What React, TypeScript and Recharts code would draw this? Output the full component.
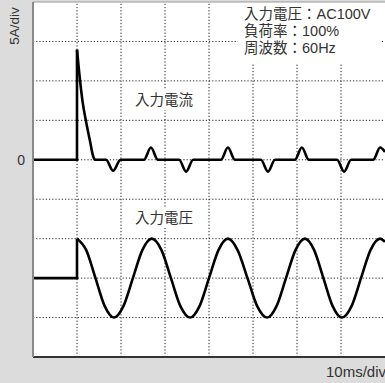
import { ComposedChart, Line, XAxis, YAxis, CartesianGrid, ReferenceLine } from 'recharts'

// time axis in ms (10ms/div), value axis in divisions
const gridTimes = [10, 20, 30, 40, 50, 60, 70]
const gridLevels = [-4, -3, -2, -1, 0, 1, 2, 3]

// input current: switch-on edge, inrush decay, then rectifier pulses
const currentStepTime = [0, 10, 10]
const currentStepValue = [0, 0, 2.79]
const currentTime = [10, 10.7, 11.3, 12.0, 13.0, 13.6, 14.1, 16.6, 18.2, 19.9, 25.2, 26.8, 28.4, 33.2, 34.8, 36.4, 42.7, 44.3, 45.9, 51.8, 53.4, 55.0, 59.5, 61.1, 62.7, 69.1, 70.7, 72.3, 77.3, 78.9, 80]
const currentValue = [2.79, 2.0, 1.45, 1.0, 0.45, 0.12, 0, 0, -0.28, 0, 0, 0.31, 0, 0, -0.3, 0, 0, 0.31, 0, 0, -0.3, 0, 0, 0.31, 0, 0, -0.3, 0, 0, 0.31, 0.2]

// input voltage: flat before switch-on, then AC waveform (centre at -3 div)
const voltageStepTime = [0, 10, 10]
const voltageStepValue = [-3, -3, -2]
const voltageTime = [10, 12.1, 14.2, 16.3, 18.4, 20.55, 22.7, 24.85, 27.0, 29.2, 31.35, 33.5, 35.7, 37.85, 40.0, 42.15, 44.3, 46.5, 48.75, 50.95, 53.2, 55.35, 57.5, 59.65, 61.8, 63.9, 66.0, 68.1, 70.2, 72.4, 74.55, 76.7, 78.9, 80]
const voltageValue = [-2, -2.29, -3, -3.71, -4, -3.71, -3, -2.29, -2, -2.29, -3, -3.71, -4, -3.71, -3, -2.29, -2, -2.29, -3, -3.71, -4, -3.71, -3, -2.29, -2, -2.29, -3, -3.71, -4, -3.71, -3, -2.29, -2, -2.08]

const conditionLines = ['入力電圧：AC100V', '負荷率：100%', '周波数：60Hz']

const toPoints = (ts: number[], vs: number[]) => ts.map((t, i) => ({ t, v: vs[i] }))

const FONT = '"Liberation Sans", "Noto Sans CJK JP", sans-serif'
const TEXT = '#333'

export default function App() {
  const labelBox = {
    position: 'absolute' as const,
    background: '#fff',
    color: TEXT,
    fontSize: 14.5,
    lineHeight: '20px',
    paddingLeft: 3,
    whiteSpace: 'nowrap' as const,
  }

  return (
    <div style={{ position: 'absolute', left: 0, top: 0, width: 385, height: 383, background: '#dcdcdc', fontFamily: FONT, overflow: 'hidden' }}>
      <ComposedChart width={385} height={383} margin={{ top: 2, right: 0, left: 0, bottom: 0 }}>
        <CartesianGrid fill="#fff" horizontal={false} vertical={false} />
        <XAxis
          type="number"
          dataKey="t"
          domain={[0, 80]}
          ticks={[0, 80]}
          tick={false}
          tickLine={false}
          height={26}
          axisLine={{ stroke: '#333', strokeWidth: 2 }}
        />
        <YAxis
          type="number"
          domain={[-5, 4]}
          ticks={[0]}
          width={33}
          tickLine={false}
          axisLine={{ stroke: '#8a8a8a', strokeWidth: 2 }}
          tick={{ fill: TEXT, fontSize: 14, fontFamily: FONT }}
        />
        <ReferenceLine y={4} stroke="#999" strokeWidth={1} />
        {gridTimes.map(t => (
          <ReferenceLine key={'x' + t} x={t} stroke="#222" strokeDasharray="1.2 2" />
        ))}
        {gridLevels.map(l => (
          <ReferenceLine key={'y' + l} y={l} stroke="#222" strokeDasharray="1.2 2" />
        ))}
        <Line data={toPoints(currentStepTime, currentStepValue)} dataKey="v" type="linear" stroke="#000" strokeWidth={2.6} dot={false} isAnimationActive={false} />
        <Line data={toPoints(currentTime, currentValue)} dataKey="v" type="monotone" stroke="#000" strokeWidth={2.6} dot={false} isAnimationActive={false} />
        <Line data={toPoints(voltageStepTime, voltageStepValue)} dataKey="v" type="linear" stroke="#000" strokeWidth={2.6} dot={false} isAnimationActive={false} />
        <Line data={toPoints(voltageTime, voltageValue)} dataKey="v" type="monotone" stroke="#000" strokeWidth={2.6} dot={false} isAnimationActive={false} />
      </ComposedChart>

      <div style={{ position: 'absolute', left: 238, top: 3, width: 142, height: 60, background: '#fff', color: TEXT, fontSize: 14.5, lineHeight: '17px', paddingTop: 3, paddingLeft: 6, boxSizing: 'border-box', whiteSpace: 'nowrap' }}>
        {conditionLines.map(s => <div key={s}>{s}</div>)}
      </div>
      <div style={{ ...labelBox, left: 132, top: 90 }}>入力電流</div>
      <div style={{ ...labelBox, left: 132, top: 208 }}>入力電圧</div>

      <div style={{ position: 'absolute', left: -10, top: 18, width: 50, height: 16, lineHeight: '16px', textAlign: 'center', transform: 'rotate(-90deg)', color: TEXT, fontSize: 13.5, whiteSpace: 'nowrap' }}>5A/div</div>
      <div style={{ position: 'absolute', right: -1, top: 362, color: TEXT, fontSize: 15, lineHeight: '20px', whiteSpace: 'nowrap' }}>10ms/div</div>
    </div>
  )
}
